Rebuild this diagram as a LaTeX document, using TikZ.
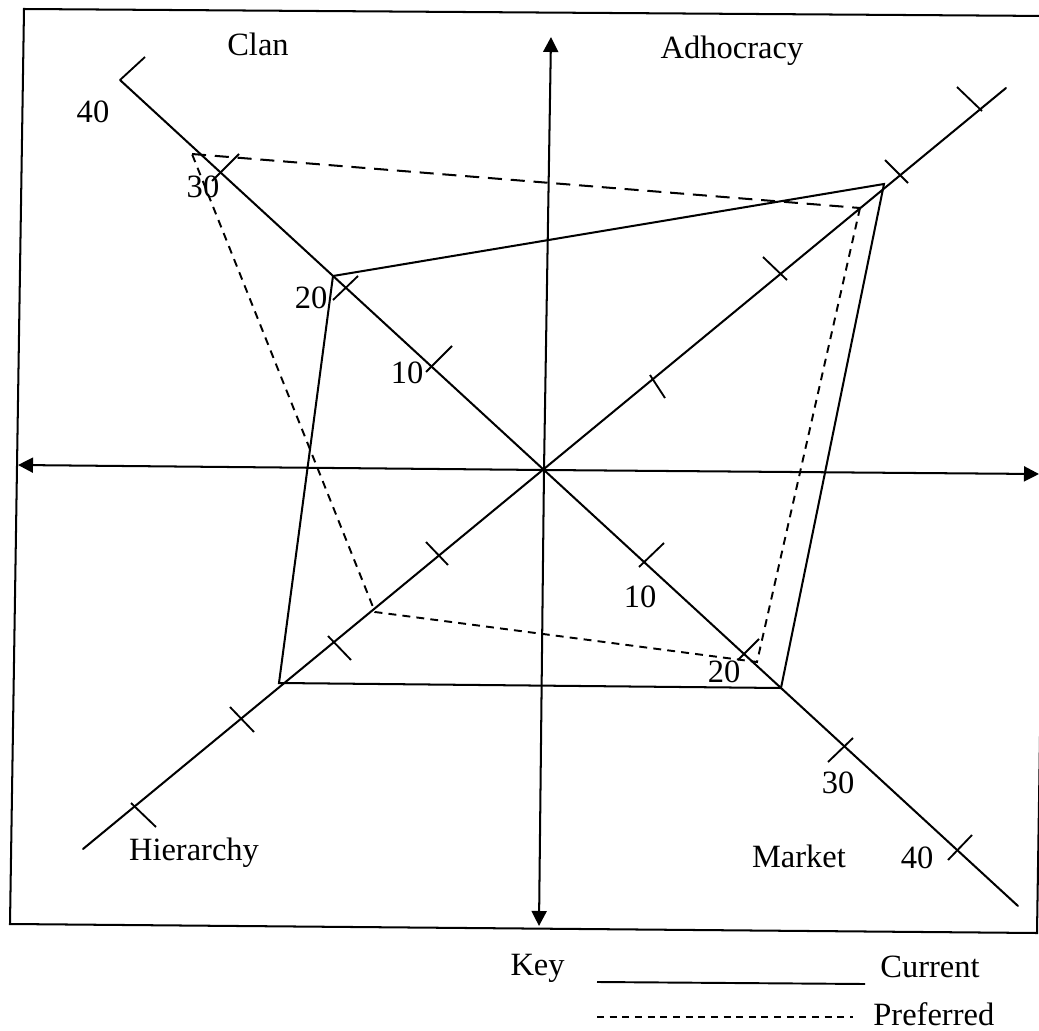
\documentclass[tikz,border=0pt]{standalone}
\usepackage{fontspec}
\setmainfont{Liberation Serif}
\usetikzlibrary{arrows.meta}
\begin{document}
\begin{tikzpicture}[x=0.02cm,y=-0.02cm,
  ln/.style={line width=1.15pt, line cap=round, line join=miter},
  axisarrow/.style={line width=1.15pt, -{Triangle[length=0.3cm,width=0.3cm]}},
  prefline/.style={line width=1.15pt, dash pattern=on 8pt off 5pt},
  prefshort/.style={line width=1.1pt, dash pattern=on 4.5pt off 3.5pt},
  tickmark/.style={line width=1.05pt},
  lbl/.style={inner sep=0pt, font=\fontsize{18.5}{22}\selectfont}]
\useasboundingbox (0,0) rectangle (1039,1031);
\clip (0,0) rectangle (1039,1031);

% frame
\coordinate (f1) at (24,9);
\coordinate (f2) at (1051,16);
\coordinate (f3) at (1037,933);
\coordinate (f4) at (10,924);
\draw[line width=1.15pt] (f1) -- (f2) -- (f3) -- (f4) -- cycle;

% axes
\coordinate (O) at (544,470);
\coordinate (up) at (551,37);
\coordinate (down) at (539,926);
\coordinate (left) at (18,465);
\coordinate (right) at (1039,474);
\draw[axisarrow] (O) -- (up);
\draw[axisarrow] (O) -- (down);
\draw[axisarrow] (O) -- (left);
\draw[axisarrow] (O) -- (right);

% diagonals
\coordinate (clanEnd) at (120,80);
\coordinate (marketEnd) at (1018,906);
\coordinate (adhEnd) at (1006,88);
\coordinate (hierEnd) at (83,849);
\draw[ln] (clanEnd) -- (marketEnd);
\draw[ln] (adhEnd) -- (hierEnd);

% ticks: clan
\draw[tickmark] (clanEnd) -- (145,57);
\draw[tickmark] (212,181) -- (239,154);
\draw[tickmark] (333,300) -- (358,276);
\draw[tickmark] (426,372) -- (452,346);
% ticks: market
\draw[tickmark] (639,567) -- (664,543);
\draw[tickmark] (738,660) -- (759,639);
\draw[tickmark] (828,762) -- (853,738);
\draw[tickmark] (948,860) -- (972,835);
% ticks: adhocracy
\draw[tickmark] (650,375) -- (665,398);
\draw[tickmark] (763,257) -- (787,280);
\draw[tickmark] (885,160) -- (908,183);
\draw[tickmark] (957,87) -- (982,111);
% ticks: hierarchy
\draw[tickmark] (426,542) -- (448,565);
\draw[tickmark] (328,636) -- (351,660);
\draw[tickmark] (230,707) -- (254,732);
\draw[tickmark] (131,803) -- (156,827);

% current profile
\coordinate (cC) at (333,276);
\coordinate (cA) at (884,184);
\coordinate (cM) at (781,688);
\coordinate (cH) at (279,683);
\draw[ln] (cC) -- (cA) -- (cM) -- (cH) -- cycle;

% preferred profile
\coordinate (pC) at (192,154);
\coordinate (pA) at (860,208);
\coordinate (pM) at (757,662);
\coordinate (pH) at (375,612);
\draw[prefline] (pC) -- (pA);
\draw[prefshort] (pA) -- (pM) -- (pH) -- (pC);

% labels
\node[lbl, anchor=base] (lClan) at (258,55) {Clan};
\node[lbl, anchor=base] (lAdh) at (732,58) {Adhocracy};
\node[lbl, anchor=base] (lHier) at (194,860) {Hierarchy};
\node[lbl, anchor=base] (lMarket) at (799,867) {Market};
\node[lbl, anchor=base] (c40) at (93,122) {40};
\node[lbl, anchor=base] (c30) at (203,197) {30};
\node[lbl, anchor=base] (c20) at (311,308) {20};
\node[lbl, anchor=base] (c10) at (407,383) {10};
\node[lbl, anchor=base] (m10) at (640,607) {10};
\node[lbl, anchor=base] (m20) at (724,682) {20};
\node[lbl, anchor=base] (m30) at (838,793) {30};
\node[lbl, anchor=base] (m40) at (917,868) {40};

% key
\node[lbl, anchor=base east] (key) at (565,975) {Key};
\coordinate (k1a) at (597,982);
\coordinate (k1b) at (865,984);
\coordinate (k2a) at (597,1017);
\coordinate (k2b) at (853,1017);
\draw[line width=1.1pt] (k1a) -- (k1b);
\draw[line width=1.1pt, dash pattern=on 4pt off 3.2pt] (k2a) -- (k2b);
\node[lbl, anchor=base west] (kCur) at (880,977) {Current};
\node[lbl, anchor=base west] (kPref) at (873,1025) {Preferred};
\end{tikzpicture}
\end{document}
